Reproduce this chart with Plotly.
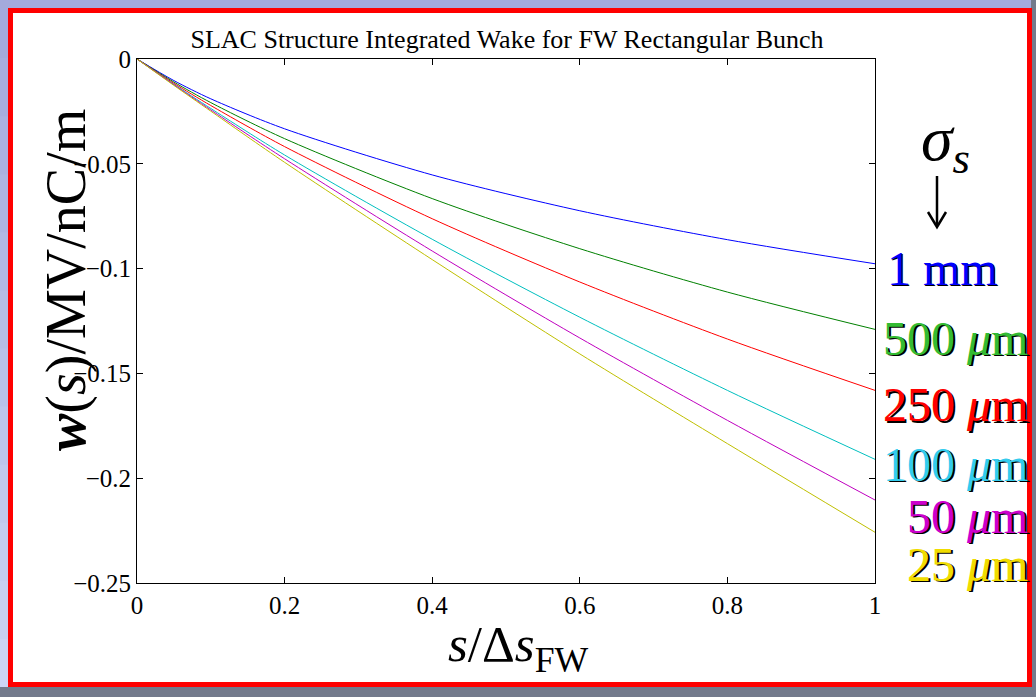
import plotly.graph_objects as go

# ---- data ----
s_norm = [0, 0.05, 0.1, 0.2, 0.4, 0.6, 0.8, 1.0]
w_1mm = [0, -0.0103, -0.0190, -0.0333, -0.0553, -0.0724, -0.0862, -0.0977]
w_500um = [0, -0.0110, -0.0208, -0.0380, -0.0666, -0.0905, -0.1112, -0.1290]
w_250um = [0, -0.0116, -0.0222, -0.0418, -0.0762, -0.1064, -0.1336, -0.1581]
w_100um = [0, -0.0121, -0.0236, -0.0458, -0.0860, -0.1232, -0.1581, -0.1910]
w_50um = [0, -0.0123, -0.0243, -0.0476, -0.0916, -0.1331, -0.1724, -0.2104]
w_25um = [0, -0.0126, -0.0249, -0.0493, -0.0957, -0.1407, -0.1835, -0.2258]

series_names = ["1 mm", "500 μm", "250 μm", "100 μm", "50 μm", "25 μm"]
label_texts = ["1 mm", "500 <i>μ</i>m", "250 <i>μ</i>m", "100 <i>μ</i>m", "50 <i>μ</i>m", "25 <i>μ</i>m"]
line_colors = ["#0000ff", "#008000", "#ff0000", "#00bfbf", "#bf00bf", "#bfbf00"]
label_colors = ["#0000ff", "#33bb33", "#ff0000", "#33ccee", "#cc00cc", "#f0dc00"]
x_ticks = [0, 0.2, 0.4, 0.6, 0.8, 1]
x_ticktext = ["0", "0.2", "0.4", "0.6", "0.8", "1"]
y_ticks = [0, -0.05, -0.1, -0.15, -0.2, -0.25]
y_ticktext = ["0", "−0.05", "−0.1", "−0.15", "−0.2", "−0.25"]

all_series = [w_1mm, w_500um, w_250um, w_100um, w_50um, w_25um]

W, H = 1036, 697
ML, MR, MT, MB = 137, 161, 59, 114
PW, PH = W - ML - MR, H - MT - MB

def px(x):
    return (x - ML) / PW

def py(y):
    return (H - MB - y) / PH

FONT = "Liberation Serif"

fig = go.Figure()
for name, ys, col in zip(series_names, all_series, line_colors):
    fig.add_trace(go.Scatter(x=s_norm, y=ys, mode="lines", name=name,
                             line=dict(color=col, width=1, shape="spline", smoothing=0.8),
                             showlegend=False))

shapes = []
# background gradient bands
n = 12
for i in range(n):
    t = i / (n - 1)
    r = int(0xa4 + t * (0xcc - 0xa4))
    g = int(0xaa + t * (0xd4 - 0xaa))
    b = int(0xdc + t * (0xf4 - 0xdc))
    y0 = H * i / n
    y1 = H * (i + 1) / n + 1
    shapes.append(dict(type="rect", xref="paper", yref="paper", layer="below",
                       x0=px(0), x1=px(W), y0=py(y1), y1=py(y0),
                       fillcolor=f"rgb({r},{g},{b})", line=dict(width=0)))
# gray patterned strips
shapes.append(dict(type="rect", xref="paper", yref="paper", layer="below",
                   x0=px(0), x1=px(W), y0=py(H), y1=py(687),
                   fillcolor="#737a8c", line=dict(width=0)))
shapes.append(dict(type="rect", xref="paper", yref="paper", layer="below",
                   x0=px(1031), x1=px(W), y0=py(H), y1=py(0),
                   fillcolor="#737a8c", line=dict(width=0)))
# red frame + white panel
shapes.append(dict(type="rect", xref="paper", yref="paper", layer="below",
                   x0=px(8), x1=px(1032), y0=py(687), y1=py(8),
                   fillcolor="#ff0000", line=dict(width=0)))
shapes.append(dict(type="rect", xref="paper", yref="paper", layer="below",
                   x0=px(13), x1=px(1027), y0=py(682), y1=py(13),
                   fillcolor="#ffffff", line=dict(width=0)))
# down arrow under sigma_s
arrow_line = dict(color="black", width=2.5)
shapes.append(dict(type="line", xref="paper", yref="paper",
                   x0=px(937), x1=px(937), y0=py(176), y1=py(226), line=arrow_line))
shapes.append(dict(type="path", xref="paper", yref="paper",
                   path=f"M {px(928)},{py(212)} L {px(937)},{py(227)} L {px(946)},{py(212)}",
                   line=arrow_line))

annotations = []
# y-axis label
annotations.append(dict(xref="paper", yref="paper", x=px(66), y=py(280),
                        text="<b><i>w</i></b>(<i>s</i>)/MV/nC/m", textangle=-90,
                        showarrow=False, font=dict(family=FONT, size=56, color="black"),
                        xanchor="center", yanchor="middle"))
# x-axis label
annotations.append(dict(xref="paper", yref="paper", x=px(518), y=py(648),
                        text="<i>s</i>/Δ<i>s</i><sub>FW</sub>",
                        showarrow=False, font=dict(family=FONT, size=51, color="black"),
                        xanchor="center", yanchor="middle"))
# sigma_s
annotations.append(dict(xref="paper", yref="paper", x=px(945), y=py(143),
                        text="<i>σ</i><sub><i>s</i></sub>",
                        showarrow=False, font=dict(family=FONT, size=64, color="black"),
                        xanchor="center", yanchor="middle"))
# series labels (with drop shadow)
label_pos = [(1000, 268), (1030, 338), (1030, 405), (1030, 464), (1030, 516), (1030, 564)]
for txt, col, (lx, ly) in zip(label_texts, label_colors, label_pos):
    for dx, dy, c in [(1.5, 1.5, "black"), (0, 0, col)]:
        annotations.append(dict(xref="paper", yref="paper", x=px(lx + dx), y=py(ly + dy),
                                text=txt, showarrow=False,
                                font=dict(family=FONT, size=48, color=c),
                                xanchor="right", yanchor="middle"))

fig.update_layout(
    width=W, height=H,
    margin=dict(l=ML, r=MR, t=MT, b=MB, autoexpand=False),
    paper_bgcolor="#a9afdd",
    plot_bgcolor="white",
    title=dict(text="SLAC Structure Integrated Wake for FW Rectangular Bunch",
               x=px(507), xref="paper", xanchor="center",
               y=1 - 39 / H, yanchor="middle",
               font=dict(family=FONT, size=26, color="black")),
    shapes=shapes,
    annotations=annotations,
    xaxis=dict(range=[0, 1], tickvals=x_ticks, ticktext=x_ticktext,
               showline=True, linecolor="black", linewidth=1, mirror="ticks",
               ticks="inside", ticklen=6, tickcolor="black", showgrid=False, zeroline=False,
               tickfont=dict(family=FONT, size=25, color="black")),
    yaxis=dict(range=[-0.25, 0], tickvals=y_ticks, ticktext=y_ticktext,
               showline=True, linecolor="black", linewidth=1, mirror="ticks",
               ticks="inside", ticklen=6, tickcolor="black", showgrid=False, zeroline=False,
               tickfont=dict(family=FONT, size=25, color="black")),
)

fig.write_html("out.html")
